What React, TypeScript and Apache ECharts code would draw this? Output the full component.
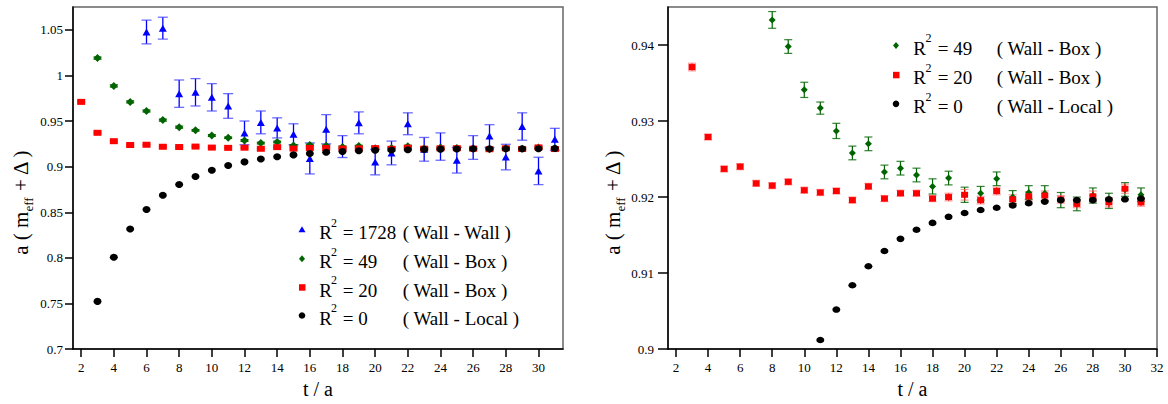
import React, { useEffect, useRef } from "react";
import * as echarts from "echarts";

// ---------- data ----------
const tWallWall = [6, 7, 8, 9, 10, 11, 12, 13, 14, 15, 16, 17, 18, 19, 20, 21, 22, 23, 24, 25, 26, 27, 28, 29, 30, 31];
const wallWall = [1.0476, 1.0518, 0.98, 0.9815, 0.976, 0.9665, 0.937, 0.9485, 0.9425, 0.9355, 0.909, 0.941, 0.922, 0.948, 0.905, 0.915, 0.947, 0.919, 0.922, 0.907, 0.921, 0.9335, 0.9105, 0.944, 0.8953, 0.93];
const wallWallErr = [0.013, 0.012, 0.015, 0.015, 0.015, 0.0135, 0.013, 0.0125, 0.011, 0.0115, 0.017, 0.016, 0.012, 0.012, 0.014, 0.013, 0.012, 0.013, 0.015, 0.014, 0.013, 0.0125, 0.014, 0.015, 0.015, 0.012];

const tBox49 = [3, 4, 5, 6, 7, 8, 9, 10, 11, 12, 13, 14, 15, 16, 17, 18, 19, 20, 21, 22, 23, 24, 25, 26, 27, 28, 29, 30, 31];
const box49 = [1.019, 0.9885, 0.971, 0.961, 0.951, 0.9433, 0.9398, 0.9341, 0.9317, 0.9287, 0.9258, 0.927, 0.9233, 0.9238, 0.9229, 0.9214, 0.9225, 0.9203, 0.9205, 0.9224, 0.92, 0.9206, 0.9205, 0.9196, 0.9191, 0.9202, 0.9195, 0.921, 0.9203];
const box49Err = [0.0012, 0.0012, 0.0011, 0.0011, 0.0011, 0.0011, 0.0009, 0.001, 0.0008, 0.001, 0.0009, 0.0009, 0.0009, 0.0009, 0.0009, 0.001, 0.0009, 0.001, 0.0009, 0.0009, 0.00085, 0.0009, 0.001, 0.001, 0.0009, 0.001, 0.001, 0.0009, 0.0009];

const tBox20 = [2, 3, 4, 5, 6, 7, 8, 9, 10, 11, 12, 13, 14, 15, 16, 17, 18, 19, 20, 21, 22, 23, 24, 25, 26, 27, 28, 29, 30, 31];
const box20 = [0.971, 0.9371, 0.9279, 0.9237, 0.924, 0.9218, 0.9215, 0.922, 0.9209, 0.9206, 0.9208, 0.9196, 0.9214, 0.9198, 0.9205, 0.9205, 0.9198, 0.92, 0.9203, 0.9196, 0.9208, 0.9197, 0.9201, 0.9202, 0.9197, 0.9191, 0.9201, 0.9193, 0.9211, 0.9193];
const box20Err = [0.0005, 0.0005, 0.0004, 0.0004, 0.0004, 0.0004, 0.0004, 0.0004, 0.0004, 0.0004, 0.0004, 0.0004, 0.0004, 0.0004, 0.0004, 0.0004, 0.0004, 0.0005, 0.0007, 0.0005, 0.0005, 0.0006, 0.0006, 0.0006, 0.0005, 0.0005, 0.0007, 0.0006, 0.0006, 0.0005];

const tLocal = [3, 4, 5, 6, 7, 8, 9, 10, 11, 12, 13, 14, 15, 16, 17, 18, 19, 20, 21, 22, 23, 24, 25, 26, 27, 28, 29, 30, 31];
const wallLocal = [0.7523, 0.8007, 0.8316, 0.853, 0.8686, 0.8804, 0.8892, 0.896, 0.9012, 0.9052, 0.9084, 0.9109, 0.9129, 0.9145, 0.9157, 0.9166, 0.9174, 0.9179, 0.9183, 0.9186, 0.9189, 0.9192, 0.9194, 0.9196, 0.9196, 0.9196, 0.9197, 0.9197, 0.9198];

const xTicksLeft = [2, 4, 6, 8, 10, 12, 14, 16, 18, 20, 22, 24, 26, 28, 30];
const xTicksRight = [2, 4, 6, 8, 10, 12, 14, 16, 18, 20, 22, 24, 26, 28, 30, 32];
const yTicksLeft = [0.7, 0.75, 0.8, 0.85, 0.9, 0.95, 1, 1.05];
const yTicksRight = [0.9, 0.91, 0.92, 0.93, 0.94];

const legendLeft = [
  { sym: "triangle", color: "#0000ff", val: "= 1728", src: "( Wall - Wall )" },
  { sym: "diamond", color: "#006400", val: "= 49", src: "( Wall - Box )" },
  { sym: "rect", color: "#ff0000", val: "= 20", src: "( Wall - Box )" },
  { sym: "circle", color: "#000000", val: "= 0", src: "( Wall - Local )" },
];
const legendRight = [
  { sym: "diamond", color: "#006400", val: "= 49", src: "( Wall - Box )" },
  { sym: "rect", color: "#ff0000", val: "= 20", src: "( Wall - Box )" },
  { sym: "circle", color: "#000000", val: "= 0", src: "( Wall - Local )" },
];

const FONT = "Liberation Serif";

const zip2 = (t: number[], v: number[]) => t.map((x, i) => [x, v[i]]);
const zip3 = (t: number[], v: number[], e: number[]) => t.map((x, i) => [x, v[i], e[i]]);

function errRender(capW: number, color: string, capColor: string, lw: number) {
  return (params: any, api: any) => {
    const x = api.value(0);
    const y = api.value(1);
    const e = api.value(2);
    const top = api.coord([x, y + e]);
    const bot = api.coord([x, y - e]);
    return {
      type: "group",
      children: [
        { type: "line", shape: { x1: top[0], y1: top[1], x2: bot[0], y2: bot[1] }, style: { stroke: color, lineWidth: lw } },
        { type: "line", shape: { x1: top[0] - capW / 2, y1: top[1], x2: top[0] + capW / 2, y2: top[1] }, style: { stroke: capColor, lineWidth: lw } },
        { type: "line", shape: { x1: bot[0] - capW / 2, y1: bot[1], x2: bot[0] + capW / 2, y2: bot[1] }, style: { stroke: capColor, lineWidth: lw } },
      ],
    };
  };
}

function legendGraphics(items: any[], mx: number, rx: number, supX: number, eqX: number, srcX: number, baselines: number[]) {
  const out: any[] = [];
  items.forEach((it, i) => {
    const b = baselines[i];
    const my = b - 9.5;
    if (it.sym === "triangle") {
      out.push({ type: "polygon", shape: { points: [[mx, my - 3.5], [mx - 3.5, my + 2.5], [mx + 3.5, my + 2.5]] }, style: { fill: it.color } });
    } else if (it.sym === "diamond") {
      out.push({ type: "polygon", shape: { points: [[mx, my - 3.5], [mx + 3, my], [mx, my + 3.5], [mx - 3, my]] }, style: { fill: it.color } });
    } else if (it.sym === "rect") {
      out.push({ type: "rect", shape: { x: mx - 3, y: my - 3, width: 6.5, height: 6.5 }, style: { fill: it.color } });
    } else {
      out.push({ type: "circle", shape: { cx: mx, cy: my, r: 3.3 }, style: { fill: it.color } });
    }
    const ts = (text: string, x: number, y: number, size: number) => ({
      type: "text",
      x,
      y,
      style: { text, fontFamily: FONT, fontSize: size, fill: "#000", textAlign: "left", textVerticalAlign: "middle", align: "left", verticalAlign: "middle" },
    });
    out.push(ts("R", rx, b - 6.4, 19));
    out.push(ts("2", supX, b - 16.6, 12));
    out.push(ts(it.val, eqX, b - 6.4, 19));
    out.push(ts(it.src, srcX, b - 6.4, 19));
  });
  return out;
}

function xAxisCfg(grid: number, min: number, max: number, ticks: number[]) {
  return {
    gridIndex: grid,
    type: "value",
    min,
    max,
    name: "t / a",
    nameLocation: "middle",
    nameGap: 25,
    nameTextStyle: { fontFamily: FONT, fontSize: 20, color: "#000" },
    axisLine: { show: true, onZero: false, lineStyle: { color: "#000", width: 1.5 } },
    axisTick: { show: true, customValues: ticks, length: 8, lineStyle: { color: "#000", width: 1.5 } },
    axisLabel: { customValues: ticks, margin: 12, fontFamily: FONT, fontSize: 13, color: "#000" },
    splitLine: { show: false },
  };
}

function yAxisCfg(grid: number, min: number, max: number, ticks: number[], tickLen: number, margin: number, nameGap: number) {
  return {
    gridIndex: grid,
    type: "value",
    min,
    max,
    name: "{m|a ( m}{s|eff}{m| + Δ )}",
    nameLocation: "middle",
    nameRotate: 90,
    nameGap,
    nameTextStyle: {
      fontFamily: FONT,
      color: "#000",
      padding: [0, 48, 0, 0],
      rich: {
        m: { fontFamily: FONT, fontSize: 21, lineHeight: 21, verticalAlign: "top", color: "#000" },
        s: { fontFamily: FONT, fontSize: 13, lineHeight: 13, padding: [12, 0, 0, 0], verticalAlign: "top", color: "#000" },
      },
    },
    axisLine: { show: true, onZero: false, lineStyle: { color: "#000", width: 1.5 } },
    axisTick: { show: true, customValues: ticks, length: tickLen, lineStyle: { color: "#000", width: 1.5 } },
    axisLabel: {
      customValues: ticks,
      margin,
      fontFamily: FONT,
      fontSize: 13,
      color: "#000",
      formatter: (v: number) => String(parseFloat(Number(v).toFixed(3))),
    },
    splitLine: { show: false },
  };
}

export default function App() {
  const ref = useRef<HTMLDivElement>(null);
  useEffect(() => {
    document.body.style.margin = "0";
    if (!ref.current) return;
    const chart = echarts.init(ref.current, undefined, { renderer: "svg" });

    const scatter = (name: string, xi: number, data: any[], symbol: string, size: any, color: string) => ({
      name,
      type: "scatter",
      xAxisIndex: xi,
      yAxisIndex: xi,
      data,
      symbol,
      symbolSize: size,
      itemStyle: { color, opacity: 1 },
      clip: true,
    });
    const err = (xi: number, data: any[], capW: number, color: string, capColor: string, lw: number) => ({
      type: "custom",
      xAxisIndex: xi,
      yAxisIndex: xi,
      data,
      encode: { x: 0, y: 1 },
      clip: true,
      renderItem: errRender(capW, color, capColor, lw),
    });

    chart.setOption({
      animation: false,
      backgroundColor: "#fff",
      textStyle: { fontFamily: FONT },
      grid: [
        { left: 73, top: 7, width: 490, height: 352, show: true, borderColor: "#666", borderWidth: 1.5, backgroundColor: "transparent" },
        { left: 668, top: 7, width: 489, height: 352, show: true, borderColor: "#666", borderWidth: 1.5, backgroundColor: "transparent" },
      ],
      xAxis: [xAxisCfg(0, 1.5, 31.5, xTicksLeft), xAxisCfg(1, 1.5, 32, xTicksRight)],
      yAxis: [yAxisCfg(0, 0.7, 1.075, yTicksLeft, 8, 10, 42), yAxisCfg(1, 0.9, 0.945, yTicksRight, 10, 14, 44)],
      series: [
        err(0, zip3(tWallWall, wallWall, wallWallErr), 10, "#0000ff", "rgba(60,60,255,0.75)", 1.3),
        scatter("R2 = 1728 (Wall - Wall)", 0, zip2(tWallWall, wallWall), "triangle", [8, 7], "#0000ff"),
        err(0, zip3(tBox49, box49, box49Err), 8, "#006400", "#006400", 1.2),
        scatter("R2 = 49 (Wall - Box)", 0, zip2(tBox49, box49), "diamond", [8, 8], "#006400"),
        err(0, zip3(tBox20, box20, box20Err), 8, "#ff0000", "rgba(255,80,80,0.6)", 1.2),
        scatter("R2 = 20 (Wall - Box)", 0, zip2(tBox20, box20), "rect", [8, 6], "#ff0000"),
        scatter("R2 = 0 (Wall - Local)", 0, zip2(tLocal, wallLocal), "circle", [8, 7], "#000000"),

        err(1, zip3(tBox49, box49, box49Err), 8, "#006400", "rgba(0,100,0,0.8)", 1.2),
        scatter("R2 = 49 (Wall - Box) ", 1, zip2(tBox49, box49), "diamond", [7, 7], "#006400"),
        err(1, zip3(tBox20, box20, box20Err), 8, "#ff0000", "rgba(255,80,80,0.6)", 1.2),
        scatter("R2 = 20 (Wall - Box) ", 1, zip2(tBox20, box20), "rect", [7, 6], "#ff0000"),
        scatter("R2 = 0 (Wall - Local) ", 1, zip2(tLocal, wallLocal), "circle", [8, 6.5], "#000000"),
      ],
      graphic: [
        ...legendGraphics(legendLeft, 302, 319.3, 331, 342.7, 402.7, [239.3, 268.3, 296.7, 325]),
        ...legendGraphics(legendRight, 896, 913.3, 925.5, 937.7, 996.7, [55, 84.3, 113.3]),
      ],
    });
    return () => chart.dispose();
  }, []);
  return <div ref={ref} style={{ width: 1168, height: 404 }} />;
}
